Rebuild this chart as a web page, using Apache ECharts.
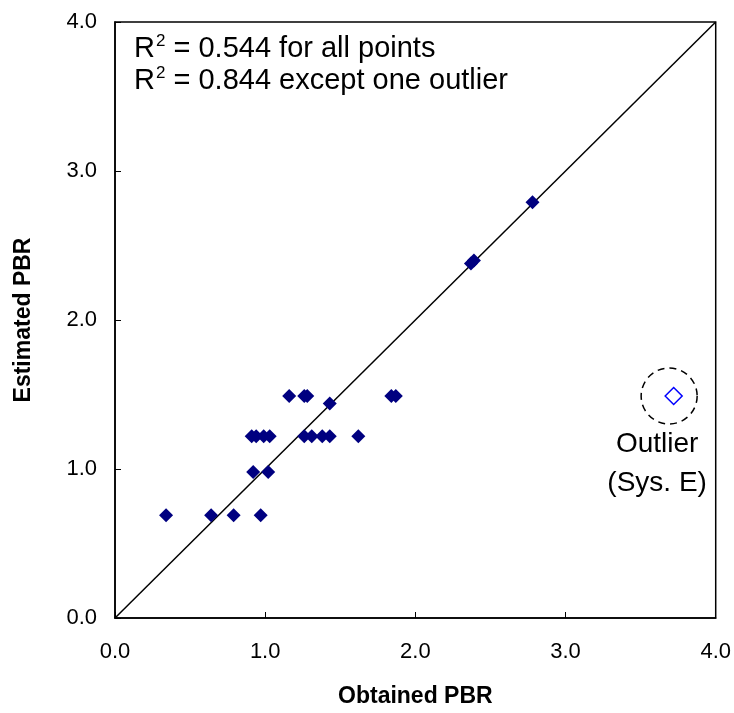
<!DOCTYPE html>
<html>
<head>
<meta charset="utf-8">
<script src="https://cdn.jsdelivr.net/npm/echarts@6/dist/echarts.min.js"></script>
<style>
html,body{margin:0;padding:0;background:#fff;}
#chart{width:734px;height:713px;}
</style>
</head>
<body>
<div id="chart"></div>
<script>
// Data (Obtained PBR, Estimated PBR)
var obtainedPBR = [0.34, 0.64, 0.79, 0.97, 0.92, 1.02, 0.91, 0.94, 0.99, 1.03, 1.26, 1.31, 1.38, 1.43, 1.62, 1.16, 1.26, 1.28, 1.84, 1.87, 1.43, 2.37, 2.39, 2.78];
var estimatedPBR = [0.69, 0.69, 0.69, 0.69, 0.98, 0.98, 1.22, 1.22, 1.22, 1.22, 1.22, 1.22, 1.22, 1.22, 1.22, 1.49, 1.49, 1.49, 1.49, 1.49, 1.44, 2.38, 2.40, 2.79];
var outlierObtained = [3.72];
var outlierEstimated = [1.49];
var circleCenter = [3.69, 1.49];
var diagonalLine = [[0, 0], [4, 4]];
var r2Texts = ['R2 = 0.544 for all points', 'R2 = 0.844 except one outlier'];

var pts = obtainedPBR.map(function (x, i) { return [x, estimatedPBR[i]]; });
var outPts = outlierObtained.map(function (x, i) { return [x, outlierEstimated[i]]; });

var FONT = '"Liberation Sans", Arial, sans-serif';
var chart = echarts.init(document.getElementById('chart'));

function r2Rich(s) {
  var rest = s.slice(2);
  return '{r|R}{s|2}{r|' + rest + '}';
}
var richStyle = {
  r: { fontSize: 29, fontWeight: 'normal', fontFamily: FONT, color: '#000', lineHeight: 32 },
  s: { fontSize: 17, fontWeight: 'normal', fontFamily: FONT, color: '#000', lineHeight: 32, verticalAlign: 'top', padding: [0, 0, 0, 1] }
};

chart.setOption({
  animation: false,
  backgroundColor: '#fff',
  title: [
    { text: r2Rich(r2Texts[0]), left: 134, top: 33, padding: 0, textStyle: { fontWeight: 'normal', rich: richStyle } },
    { text: r2Rich(r2Texts[1]), left: 134, top: 65, padding: 0, textStyle: { fontWeight: 'normal', rich: richStyle } }
  ],
  grid: { left: 115, top: 22, right: 18, bottom: 91, show: true, borderColor: '#000', borderWidth: 1.5, backgroundColor: 'transparent' },
  xAxis: {
    type: 'value', min: 0, max: 4, interval: 1,
    name: 'Obtained PBR', nameLocation: 'middle', nameGap: 67,
    nameTextStyle: { fontSize: 23, fontWeight: 'bold', fontFamily: FONT, color: '#000' },
    axisLine: { show: true, onZero: false, lineStyle: { color: '#000', width: 1.5 } },
    axisTick: { show: true, inside: true, length: 6, lineStyle: { color: '#000', width: 1 } },
    axisLabel: { margin: 23, fontSize: 22, fontFamily: FONT, color: '#000', formatter: function (v) { return v.toFixed(1); } },
    splitLine: { show: false }
  },
  yAxis: {
    type: 'value', min: 0, max: 4, interval: 1,
    name: 'Estimated PBR', nameLocation: 'middle', nameGap: 80,
    nameTextStyle: { fontSize: 23, fontWeight: 'bold', fontFamily: FONT, color: '#000' },
    axisLine: { show: true, onZero: false, lineStyle: { color: '#000', width: 1.5 } },
    axisTick: { show: true, inside: true, length: 6, lineStyle: { color: '#000', width: 1 } },
    axisLabel: { margin: 18, fontSize: 22, fontFamily: FONT, color: '#000', formatter: function (v) { return v.toFixed(1); } },
    splitLine: { show: false }
  },
  series: [
    {
      type: 'line', data: diagonalLine, showSymbol: false, symbol: 'none',
      lineStyle: { color: '#000', width: 1.5 }, silent: true, z: 1
    },
    {
      type: 'scatter', data: pts, symbol: 'diamond', symbolSize: 14,
      itemStyle: { color: '#000080', opacity: 1 }, z: 3
    },
    {
      type: 'scatter', data: outPts, symbol: 'diamond', symbolSize: 17,
      itemStyle: { color: '#fff', borderColor: '#0000FF', borderWidth: 1.5, opacity: 1 }, z: 3
    },
    {
      type: 'scatter', data: [circleCenter], symbol: 'circle', symbolSize: 56,
      itemStyle: { color: 'transparent', borderColor: '#000', borderWidth: 1.5, borderType: [7, 5], opacity: 1 },
      label: {
        show: true, position: 'bottom', distance: 0, offset: [-12, 0],
        formatter: 'Outlier\n(Sys. E)', fontSize: 28, lineHeight: 39, fontFamily: FONT, color: '#000', align: 'center'
      },
      silent: true, z: 2
    }
  ]
});
</script>
</body>
</html>
